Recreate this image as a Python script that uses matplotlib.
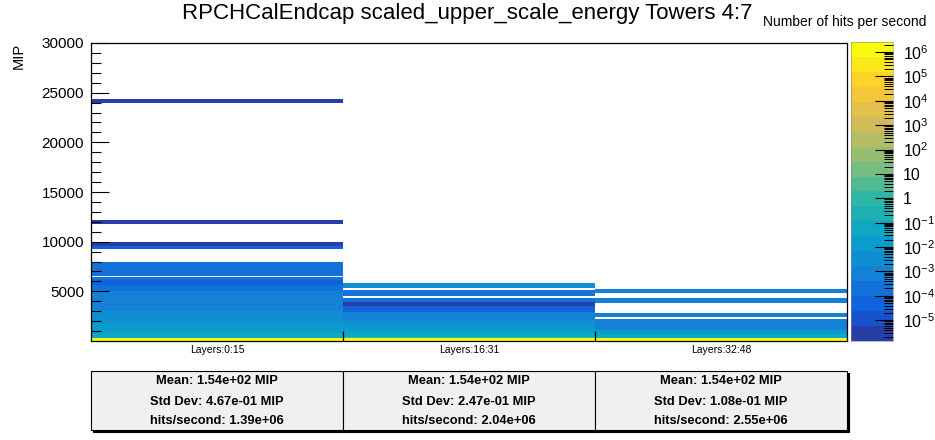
import numpy as np
import matplotlib
matplotlib.use("Agg")
import matplotlib.pyplot as plt
from matplotlib.colors import LinearSegmentedColormap, ListedColormap, BoundaryNorm
from matplotlib.patches import Rectangle
from matplotlib.ticker import FixedLocator, LogLocator, FuncFormatter, NullFormatter

plt.rcParams["font.family"] = ["Liberation Sans", "DejaVu Sans"]
plt.rcParams["mathtext.fontset"] = "custom"
plt.rcParams["mathtext.rm"] = "Liberation Sans"
plt.rcParams["mathtext.it"] = "Liberation Sans:italic"
plt.rcParams["mathtext.bf"] = "Liberation Sans:bold"
plt.rcParams["axes.unicode_minus"] = False

nan = np.nan

TITLE = "RPCHCalEndcap scaled_upper_scale_energy Towers 4:7"
Z_LABEL = "Number of hits per second"
Y_LABEL = "MIP"
layer_labels = ["Layers:0:15", "Layers:16:31", "Layers:32:48"]

# energy bin edges (MIP) and hits per second per bin, nan = empty bin
layers_0_15_edges = [0, 270, 330, 800, 1800, 3000, 5000, 5640, 6100, 6440, 6570,
                     7920, 9250, 9560, 10000, 11800, 12200, 24000, 24400, 30000]
layers_0_15_rates = [1.39e6, 3, 5e-2, 1.2e-2, 3e-3, 8e-4, 2e-4, 5e-5, 2e-4, nan,
                     2e-4, nan, 5e-5, 3e-6, nan, 3e-6, nan, 3e-6, nan]

layers_16_31_edges = [0, 330, 380, 900, 1440, 2110, 2950, 3550, 3890, 4350, 4490,
                      5160, 5300, 5800, 30000]
layers_16_31_rates = [2.04e6, 0.8, 5e-2, 1.2e-2, 3e-3, 8e-4, 5e-5, 3e-6, 2e-4, nan,
                      2e-4, nan, 3e-3, nan]

layers_32_48_edges = [0, 270, 320, 700, 1100, 2180, 2380, 2780, 3850, 4290, 4790,
                      5200, 30000]
layers_32_48_rates = [2.55e6, 3, 5e-2, 1.2e-2, 8e-4, nan, 8e-4, nan, 8e-4, nan,
                      8e-4, nan]

# stats box values
mean_mip = [1.54e2, 1.54e2, 1.54e2]
std_dev_mip = [4.67e-1, 2.47e-1, 1.08e-1]
hits_per_second = [1.39e6, 2.04e6, 2.55e6]

Z_MIN = 1.4e-6
Z_MAX = 2.6e6
N_CONTOURS = 20


def bird_colormap():
    stops = [0.0, 0.125, 0.25, 0.375, 0.5, 0.625, 0.75, 0.875, 1.0]
    red = [0.2082, 0.0592, 0.0780, 0.0232, 0.1802, 0.5301, 0.8186, 0.9956, 0.9764]
    green = [0.1664, 0.3599, 0.5041, 0.6419, 0.7178, 0.7492, 0.7328, 0.7862, 0.9832]
    blue = [0.5293, 0.8684, 0.8385, 0.7914, 0.6425, 0.4662, 0.3499, 0.1968, 0.0539]
    smooth = LinearSegmentedColormap.from_list(
        "bird", list(zip(stops, zip(red, green, blue))), N=256)
    colors = [smooth((i + 0.99) / N_CONTOURS) for i in range(N_CONTOURS)]
    return ListedColormap(colors)


def log_label(value, pos):
    exp = int(round(np.log10(value)))
    if exp == 0:
        return "1"
    if exp == 1:
        return "10"
    return r"$10^{%d}$" % exp


W, H = 935, 440
fig = plt.figure(figsize=(W / 100, H / 100), dpi=100)

cmap = bird_colormap()
levels = np.logspace(np.log10(Z_MIN), np.log10(Z_MAX), N_CONTOURS + 1)
norm = BoundaryNorm(levels, N_CONTOURS)

ax = fig.add_axes([91 / W, 1 - 341 / H, 756 / W, 298 / H])
columns = [
    (layers_0_15_edges, layers_0_15_rates),
    (layers_16_31_edges, layers_16_31_rates),
    (layers_32_48_edges, layers_32_48_rates),
]
for i, (edges, rates) in enumerate(columns):
    values = np.ma.masked_invalid(np.array(rates, dtype=float))[:, None]
    ax.pcolormesh([i, i + 1], edges, values, cmap=cmap, norm=norm)

ax.set_xlim(0, 3)
ax.set_ylim(0, 30000)
ax.yaxis.set_major_locator(FixedLocator(range(5000, 30001, 5000)))
ax.yaxis.set_minor_locator(FixedLocator(range(1000, 30000, 1000)))
ax.tick_params(axis="y", which="major", direction="in", length=13, width=0.8,
               labelsize=11, pad=5, right=False)
ax.tick_params(axis="y", which="minor", direction="in", length=7, width=0.8,
               right=False)
ax.set_xticks([1, 2])
ax.set_xticklabels([])
ax.set_xticks([0.5, 1.5, 2.5], layer_labels, minor=True)
ax.tick_params(axis="x", which="major", direction="in", length=7, width=0.9, top=False)
ax.tick_params(axis="x", which="minor", length=0, labelsize=7.5, pad=3)
for spine in ax.spines.values():
    spine.set_linewidth(0.9)

# colour scale
cax = fig.add_axes([851 / W, 1 - 341 / H, 42 / W, 299 / H])
cax.set_yscale("log")
centers = np.sqrt(levels[:-1] * levels[1:])
cax.pcolormesh([0, 1], levels, centers[:, None], cmap=cmap, norm=norm)
cax.set_xlim(0, 1)
cax.set_ylim(Z_MIN, Z_MAX)
cax.set_xticks([])
cax.yaxis.set_ticks_position("right")
cax.yaxis.set_major_locator(LogLocator(base=10, numticks=30))
cax.yaxis.set_minor_locator(LogLocator(base=10, subs=np.arange(2, 10), numticks=30))
cax.yaxis.set_major_formatter(FuncFormatter(log_label))
cax.yaxis.set_minor_formatter(NullFormatter())
cax.tick_params(axis="y", which="major", direction="in", length=13, width=0.8,
                labelsize=11.5, pad=7)
cax.tick_params(axis="y", which="minor", direction="in", length=6.5, width=0.7)
for spine in cax.spines.values():
    spine.set_linewidth(0.4)
    spine.set_color("#888888")

# texts
fig.text(467 / W, 1 - 14 / H, TITLE, ha="center", va="center", fontsize=16)
fig.text(763 / W, 1 - 22 / H, Z_LABEL, ha="left", va="center", fontsize=10)
fig.text(12 / W, 1 - 43 / H, Y_LABEL, ha="left", va="top", rotation=90, fontsize=10.5)

# stats boxes under each layer group
box_top, box_bottom = 371, 430
for i in range(3):
    x0 = 91 + i * 252
    shadow = Rectangle(((x0 + 2) / W, 1 - (box_bottom + 2) / H), 252 / W,
                       (box_bottom - box_top) / H, transform=fig.transFigure,
                       facecolor="black", edgecolor="black", linewidth=0.8)
    box = Rectangle((x0 / W, 1 - box_bottom / H), 252 / W,
                    (box_bottom - box_top) / H, transform=fig.transFigure,
                    facecolor="#f0f0f0", edgecolor="black", linewidth=0.8)
    fig.patches.extend([shadow, box])
    lines = [
        f"Mean: {mean_mip[i]:.2e} MIP",
        f"Std Dev: {std_dev_mip[i]:.2e} MIP",
        f"hits/second: {hits_per_second[i]:.2e}",
    ]
    for line, y in zip(lines, [380.7, 401.7, 421]):
        fig.text((x0 + 126) / W, 1 - y / H, line, ha="center", va="center",
                 fontsize=9.3, fontweight="bold")

fig.savefig("out.png", dpi=100)
plt.close(fig)
